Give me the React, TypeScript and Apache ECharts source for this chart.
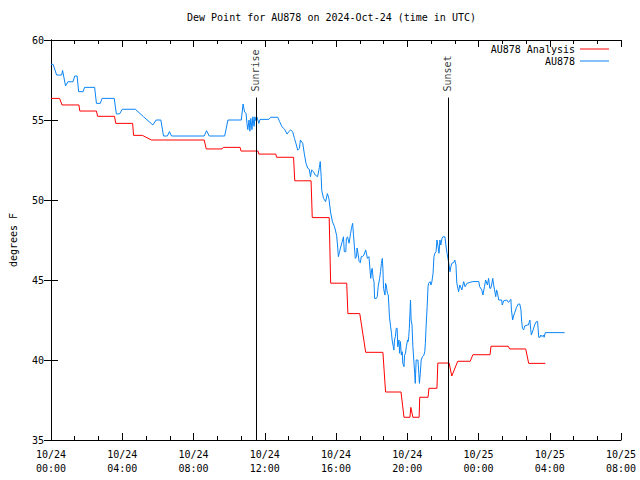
import React, { useEffect, useRef } from "react";
import * as echarts from "echarts";

// time in minutes since 2024-10-24 00:00 UTC, value in degrees F
const analysisPoints: number[][] = [[0,56.35],[29,56.35],[37,55.94],[94,55.94],[97,55.56],[153,55.56],[157,55.23],[214,55.23],[218,54.79],[275,54.79],[278,54.04],[308,54.04],[338,53.75],[516,53.75],[523,53.19],[576,53.19],[580,53.29],[637,53.29],[640,53.06],[697,53.06],[700,52.87],[757,52.87],[760,52.67],[817,52.67],[821,51.2],[876,51.2],[880,48.9],[937,48.9],[942,44.8],[996,44.8],[1000,42.9],[1040,42.9],[1060,40.48],[1118,40.48],[1127,38.0],[1179,38.0],[1189,36.42],[1209,36.42],[1212,37.04],[1219,36.42],[1240,36.42],[1242,37.67],[1270,37.67],[1273,38.23],[1300,38.23],[1303,39.81],[1341,39.81],[1350,39.0],[1370,39.92],[1412,39.92],[1421,40.33],[1479,40.33],[1482,40.86],[1540,40.86],[1545,40.69],[1599,40.69],[1609,39.79],[1665,39.79]];

const stationPoints: number[][] = [[0,58.48],[7,58.48],[19,57.81],[36,57.81],[39,58.1],[49,57.13],[57,57.39],[74,57.39],[80,57.75],[88,57.75],[93,56.77],[108,56.77],[113,57.04],[147,57.04],[153,56.04],[166,56.04],[172,56.35],[213,56.35],[220,55.38],[231,55.38],[240,55.67],[284,55.67],[312,55.2],[343,54.69],[354,55.0],[370,55.0],[379,54.0],[392,54.0],[399,54.27],[406,54.0],[516,54.0],[524,54.33],[533,54.0],[585,54.0],[596,55.0],[641,55.0],[647,56.0],[652,55.5],[657,55.42],[660,54.79],[663,54.4],[667,55.0],[670,54.3],[673,55.1],[677,54.4],[680,55.2],[684,54.6],[687,55.2],[690,54.96],[694,55.17],[700,54.79],[704,55.04],[734,55.04],[740,55.17],[764,55.17],[770,54.9],[778,54.58],[787,54.42],[795,54.12],[801,54.27],[807,54.38],[814,54.27],[820,53.85],[825,53.54],[831,53.12],[837,53.23],[840,53.75],[848,53.54],[853,52.92],[859,52.29],[865,51.98],[870,51.92],[874,51.46],[878,51.88],[884,51.77],[890,51.56],[898,51.46],[904,52.04],[907,52.4],[910,51.46],[912,50.6],[918,50.1],[925,49.9],[931,50.4],[936,50.1],[942,49.2],[948,48.64],[955,48.33],[962,47.8],[965,47.19],[968,46.46],[972,46.77],[975,47.0],[981,47.4],[985,47.7],[988,46.77],[993,46.77],[995,47.6],[999,47.7],[1004,47.3],[1009,47.9],[1012,48.23],[1016,48.54],[1019,47.8],[1022,47.08],[1025,46.35],[1029,46.46],[1031,47.0],[1034,46.67],[1038,46.15],[1042,46.08],[1045,46.46],[1049,46.46],[1054,46.56],[1060,46.88],[1066,46.35],[1071,46.46],[1077,45.1],[1080,45.63],[1082,45.73],[1085,45.1],[1088,44.9],[1090,43.85],[1096,43.85],[1099,43.96],[1102,44.58],[1107,45.1],[1110,45.52],[1113,46.04],[1116,46.35],[1118,45.7],[1120,44.48],[1125,44.06],[1127,44.79],[1129,44.7],[1133,44.17],[1136,44.06],[1138,43.44],[1140,42.7],[1144,42.08],[1147,41.67],[1149,41.25],[1153,40.83],[1155,40.62],[1157,41.25],[1160,41.46],[1163,41.98],[1166,41.98],[1168,40.83],[1172,41.25],[1174,40.42],[1177,41.15],[1180,40.31],[1183,40.52],[1185,39.79],[1189,39.58],[1191,40.3],[1194,40.42],[1197,40.83],[1201,41.25],[1203,41.15],[1205,41.46],[1207,41.98],[1211,43.75],[1213,42.5],[1216,42.19],[1219,40.83],[1222,40.0],[1225,39.17],[1227,38.54],[1230,40.0],[1236,40.0],[1239,39.17],[1241,38.54],[1244,39.17],[1247,40.0],[1251,40.2],[1256,40.3],[1259,40.52],[1261,41.04],[1263,41.88],[1267,43.33],[1270,44.58],[1272,44.8],[1277,44.9],[1280,44.69],[1283,44.9],[1287,45.42],[1290,46.46],[1293,46.67],[1297,46.77],[1300,47.5],[1303,47.19],[1307,46.67],[1310,47.5],[1313,47.19],[1317,47.6],[1320,47.7],[1327,47.7],[1330,47.19],[1334,46.67],[1337,46.35],[1340,46.04],[1344,45.52],[1347,45.83],[1350,46.04],[1357,46.1],[1360,46.25],[1364,45.94],[1367,44.8],[1373,44.27],[1377,44.69],[1384,44.38],[1390,44.9],[1395,44.58],[1401,44.79],[1411,44.85],[1421,44.9],[1441,44.9],[1444,44.58],[1451,44.38],[1455,44.06],[1460,44.58],[1464,45.0],[1470,44.69],[1474,45.1],[1478,44.48],[1481,44.48],[1484,44.69],[1488,45.1],[1491,44.69],[1494,44.38],[1498,43.96],[1501,44.38],[1504,44.17],[1508,43.75],[1518,43.75],[1520,43.44],[1525,43.7],[1535,43.75],[1541,43.6],[1549,43.79],[1551,43.13],[1555,42.5],[1558,42.75],[1562,42.96],[1568,43.29],[1574,43.5],[1579,43.5],[1583,43.13],[1585,42.5],[1588,41.98],[1592,41.88],[1596,42.13],[1605,42.19],[1608,42.19],[1613,42.5],[1616,41.88],[1618,41.56],[1624,41.88],[1629,42.19],[1635,42.4],[1639,42.4],[1641,41.88],[1643,41.42],[1647,41.42],[1650,41.56],[1654,41.46],[1659,41.56],[1661,41.42],[1665,41.71],[1730,41.71]];

const seriesNames = ["AU878 Analysis", "AU878"];
const sunEvents = [
  { name: "Sunrise", time: 690 },
  { name: "Sunset", time: 1337 },
];
const sunLineTop = 56.4;
const xMin = 0;
const xMax = 1920;
const xStep = 240;
const yMin = 35;
const yMax = 60;
const yStep = 5;
const titleText = "Dew Point for AU878 on 2024-Oct-24 (time in UTC)";
const yName = "degrees F";

const FONT = "DejaVu Sans Mono";

function fmtTime(v: number): string {
  const day = 24 + Math.floor(v / 1440);
  const h = Math.floor((v % 1440) / 60);
  return `10/${day}\n${String(h).padStart(2, "0")}:00`;
}

export default function App() {
  const ref = useRef<HTMLDivElement>(null);
  useEffect(() => {
    if (!ref.current) return;
    const chart = echarts.init(ref.current, null, { renderer: "svg" });
    const axisLine = { show: true, lineStyle: { color: "#000", width: 1 } };
    const tick = { show: true, inside: true, length: 7, lineStyle: { color: "#000" } };
    const minor = { show: true, splitNumber: 3, length: 4, lineStyle: { color: "#000" } };
    chart.setOption({
      animation: false,
      backgroundColor: "#fff",
      title: {
        text: titleText,
        left: 187,
        top: 12,
        padding: 0,
        textStyle: { fontFamily: FONT, fontSize: 10, fontWeight: "normal", color: "#000" },
      },
      legend: {
        data: seriesNames,
        orient: "vertical",
        right: 31,
        top: 43,
        padding: 0,
        itemGap: 0,
        align: "right",
        icon: "rect",
        itemWidth: 29,
        itemHeight: 1,
        textStyle: { fontFamily: FONT, fontSize: 10, color: "#000", lineHeight: 12 },
      },
      grid: { left: 47, right: 19, top: 40, bottom: 40 },
      xAxis: [
        {
          type: "value",
          min: xMin,
          max: xMax,
          interval: xStep,
          axisLine,
          axisTick: tick,
          minorTick: minor,
          splitLine: { show: false },
          axisLabel: {
            formatter: fmtTime,
            fontFamily: FONT,
            fontSize: 10,
            color: "#000",
            lineHeight: 14,
            margin: 7,
            showMinLabel: true,
            showMaxLabel: true,
          },
        },
        {
          type: "value",
          position: "top",
          min: xMin,
          max: xMax,
          interval: xStep,
          axisLine,
          axisTick: tick,
          minorTick: minor,
          splitLine: { show: false },
          axisLabel: { show: false },
        },
      ],
      yAxis: [
        {
          type: "value",
          min: yMin,
          max: yMax,
          interval: yStep,
          name: yName,
          nameLocation: "middle",
          nameRotate: 90,
          nameGap: 33,
          nameTextStyle: { fontFamily: FONT, fontSize: 10, color: "#000" },
          axisLine,
          axisTick: tick,
          splitLine: { show: false },
          axisLabel: { fontFamily: FONT, fontSize: 10, color: "#000", margin: 7 },
        },
        {
          type: "value",
          position: "right",
          min: yMin,
          max: yMax,
          interval: yStep,
          axisLine,
          axisTick: tick,
          splitLine: { show: false },
          axisLabel: { show: false },
        },
      ],
      series: [
        {
          name: seriesNames[0],
          type: "line",
          data: analysisPoints,
          showSymbol: false,
          symbol: "none",
          lineStyle: { color: "#ff0000", width: 1 },
          itemStyle: { color: "#ff0000" },
          z: 3,
          markLine: {
            silent: true,
            symbol: "none",
            label: { show: false },
            lineStyle: { color: "#000", width: 1, type: "solid" },
            data: sunEvents.map((e) => [
              { coord: [e.time, yMin] },
              { coord: [e.time, sunLineTop] },
            ]),
          },
        },
        {
          name: seriesNames[1],
          type: "line",
          data: stationPoints,
          showSymbol: false,
          symbol: "none",
          lineStyle: { color: "#0a84f5", width: 1 },
          itemStyle: { color: "#0a84f5" },
          z: 4,
        },
        {
          name: "sun",
          type: "scatter",
          symbolSize: 0,
          silent: true,
          data: sunEvents.map((e) => ({ name: e.name, value: [e.time, sunLineTop] })),
          label: {
            show: true,
            position: "top",
            distance: 6,
            rotate: 90,
            align: "left",
            verticalAlign: "middle",
            formatter: "{b}",
            fontFamily: FONT,
            fontSize: 10,
            color: "#000",
          },
        },
      ],
    });
    return () => chart.dispose();
  }, []);
  return (
    <div
      ref={ref}
      style={{ position: "absolute", left: 0, top: 0, width: 640, height: 480 }}
    />
  );
}
